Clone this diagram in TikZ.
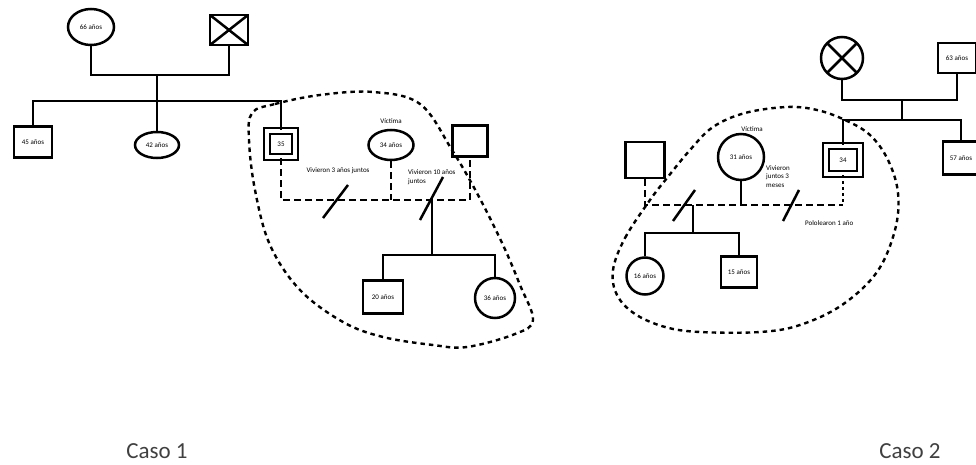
\documentclass[tikz,border=0pt]{standalone}
\usepackage{fontspec}
\setmainfont{Carlito}
\usetikzlibrary{shapes.geometric}
\begin{document}
\begin{tikzpicture}[x=1pt,y=-1pt,
  tiny/.style={font=\fontsize{7}{8.5}\selectfont},
  sqn/.style={draw, rectangle, line width=2.5pt, inner sep=0pt, tiny},
  eln/.style={draw, ellipse, line width=2.5pt, inner sep=0pt, tiny},
  cin/.style={draw, circle, line width=2.5pt, inner sep=0pt, tiny},
  dbl/.style={draw, rectangle, line width=2pt, double, double distance=3.8pt, inner sep=0pt, tiny},
  crossed/.style={path picture={\draw[line width=2.5pt] (path picture bounding box.north west) -- (path picture bounding box.south east) (path picture bounding box.north east) -- (path picture bounding box.south west);}},
  link/.style={line width=2.5pt},
  cpl/.style={line width=2.5pt, dash pattern=on 7pt off 4pt},
  dotl/.style={line width=2.5pt, dash pattern=on 3pt off 3pt},
  bound/.style={line width=2.4pt, dash pattern=on 4.5pt off 4pt},
  lbl/.style={tiny, inner sep=0pt},
  caso/.style={font=\fontsize{23}{26}\selectfont, text=black!75, inner sep=0pt}
]
\useasboundingbox (0,0) rectangle (976,465);

% ---------------- Caso 1 ----------------
\node[eln, minimum width=46pt, minimum height=36pt] (g66) at (91,27) {66 años};
\node[sqn, crossed, minimum width=38pt, minimum height=30pt] (gx) at (229,30) {};
\node[sqn, minimum width=38pt, minimum height=31pt] (s45) at (33,142) {45 años};
\node[eln, minimum width=44pt, minimum height=26pt] (e42) at (157,145) {42 años};
\node[dbl, minimum width=28.4pt, minimum height=26.4pt] (s35) at (281,144) {35};
\node[lbl] (v1) at (391,121) {Víctima};
\node[eln, minimum width=45pt, minimum height=30pt] (e34) at (391,145) {34 años};
\node[sqn, minimum width=35pt, minimum height=31pt] (sq1) at (470,141) {};
\node[lbl] (t1) at (338,171) {Vivieron 3 años juntos};
\node[lbl, anchor=west, align=left] (t2) at (408,177) {Vivieron 10 años\\juntos};
\node[sqn, minimum width=40pt, minimum height=33pt] (s20) at (383,297) {20 años};
\node[cin, minimum size=40pt] (c36) at (495,298) {36 años};
\node[caso] (caso1) at (157,451) {Caso 1};

\coordinate (j1) at (157,75);
\coordinate (j2) at (157,101);
\draw[link] (g66.south) |- (j1) -| (gx.south);
\draw[link] (j1) -- (j2);
\draw[link] (s45.north) |- (j2) -| (s35.north);
\draw[link] (j2) -- (e42.north);

\coordinate (c1) at (281,200);
\coordinate (c2) at (470,200);
\draw[cpl] (s35.south) -- (c1) -- (c2) -- (sq1.south);
\draw[cpl] (e34.south) -- (e34.south |- c1);
\coordinate (a1) at (323,218); \coordinate (a2) at (348,185);
\coordinate (a3) at (420,220); \coordinate (a4) at (443,177);
\draw[link] (a1) -- (a2);
\draw[link] (a3) -- (a4);
\coordinate (k1) at (432,200);
\coordinate (k2) at (432,255);
\draw[link] (k1) -- (k2);
\draw[link] (s20.north) |- (k2) -| (c36.north);

\draw[bound] plot[smooth cycle, tension=0.6] coordinates {
 (252,113) (275,104) (320,95) (373,92) (420,104) (452,150) (478,195) (503,245)
 (520,285) (533,320) (515,334) (467,347) (433,345) (383,337) (343,322)
 (300,290) (270,245) (255,190) (249,140)};

% ---------------- Caso 2 ----------------
\node[cin, crossed, minimum size=42pt] (gx2) at (842,58) {};
\node[sqn, minimum width=38pt, minimum height=30pt] (s63) at (957,58) {63 años};
\node[dbl, minimum width=33.4pt, minimum height=28.4pt] (s34) at (843,160) {34};
\node[sqn, minimum width=36pt, minimum height=33pt] (s57) at (961,158) {57 años};
\node[sqn, minimum width=39pt, minimum height=36pt] (sq2) at (645,160) {};
\node[lbl] (v2) at (752,129) {Víctima};
\node[cin, minimum size=46pt] (c31) at (741,157) {31 años};
\node[lbl, anchor=north west, align=left] (t3) at (766,165) {Vivieron\\juntos 3\\meses};
\node[lbl, anchor=west] (t4) at (805,223) {Pololearon 1 año};
\node[cin, minimum size=37pt] (c16) at (645,276) {16 años};
\node[sqn, minimum width=36pt, minimum height=31pt] (s15) at (739,272) {15 años};
\node[caso] (caso2) at (910,451) {Caso 2};

\coordinate (j3) at (902,100);
\coordinate (j4) at (902,120);
\draw[link] (gx2.south) |- (j3) -| (s63.south);
\draw[link] (j3) -- (j4);
\draw[link] (s34.north) |- (j4) -| (s57.north);

\coordinate (c3) at (645,205);
\coordinate (c4) at (843,205);
\draw[cpl] (sq2.south) -- (c3) -- (c4);
\draw[dotl] (s34.south) -- (c4);
\draw[link] (c31.south) -- (c31.south |- c3);
\coordinate (b1) at (673,221); \coordinate (b2) at (695,190);
\coordinate (b3) at (783,221); \coordinate (b4) at (799,190);
\draw[link] (b1) -- (b2);
\draw[link] (b3) -- (b4);
\coordinate (k3) at (693,205);
\coordinate (k4) at (693,233);
\draw[link] (k3) -- (k4);
\draw[link] (c16.north) |- (k4) -| (s15.north);

\draw[bound] plot[smooth cycle, tension=0.6] coordinates {
 (613,270) (625,238) (650,200) (667,178) (690,150) (713,127) (745,113)
 (787,107) (817,110) (845,120) (870,135) (888,160) (898,193) (895,230)
 (877,272) (842,305) (800,325) (760,332) (700,332) (665,327) (635,314) (617,295)};
\end{tikzpicture}
\end{document}
